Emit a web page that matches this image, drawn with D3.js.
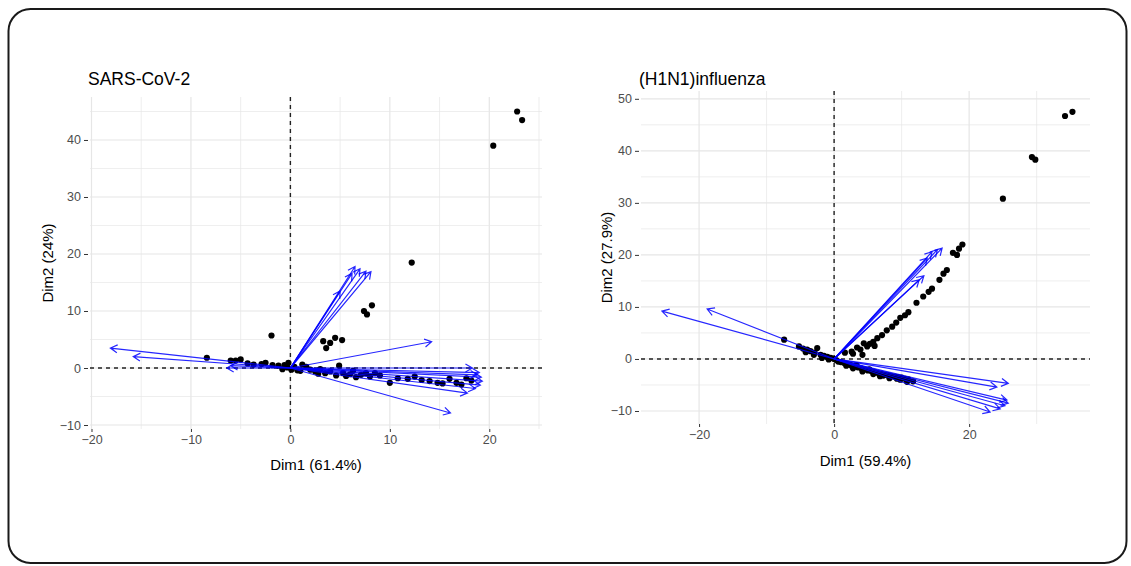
<!DOCTYPE html>
<html>
<head>
<meta charset="utf-8">
<script src="https://cdn.jsdelivr.net/npm/d3@7"></script>
<style>
  body { margin: 0; background: #fff; }
  svg { display: block; font-family: "Liberation Sans", Arial, sans-serif; }
</style>
</head>
<body>
<div id="chart"></div>
<script>
// SARS-CoV-2 : individus (points) et variables (fleches)
const sarsInd = [
  [22.8, 45.0], [23.3, 43.5], [20.4, 39.0], [12.2, 18.5],
  [7.4, 10.0], [7.7, 9.4], [8.2, 11.0],
  [-1.9, 5.7], [3.3, 4.7], [3.6, 3.5], [4.0, 4.4], [4.5, 5.3], [5.2, 4.9],
  [-8.4, 1.8], [-6.0, 1.3], [-5.5, 1.3], [-5.0, 1.5], [-4.3, 0.8], [-3.7, 0.6],
  [-2.9, 0.7], [-2.5, 0.9], [-1.8, 0.5], [-1.2, 0.4], [-0.6, 0.5], [-0.2, 0.9],
  [-0.3, 0.1], [0.1, -0.3], [0.4, 0.2],
  [1.2, 0.6], [1.6, 0.2], [2.0, -0.3], [2.5, -0.6], [3.0, -0.2], [3.5, -0.9],
  [4.0, -0.6], [4.6, -1.3], [4.9, 0.4], [5.3, -0.9], [6.0, -1.1], [6.6, -1.6],
  [7.1, -1.2], [8.0, -1.5], [9.0, -1.3], [10.0, -2.6], [10.8, -1.8], [11.8, -1.9],
  [12.5, -1.5], [13.2, -2.1], [14.0, -2.3], [14.8, -2.6], [15.3, -2.7], [16.0, -1.9],
  [16.7, -2.6], [17.2, -2.9], [17.7, -1.8], [18.2, -2.2], [8.5, -0.9], [6.3, -0.5],
  [2.8, -1.0], [1.0, -0.5], [-0.8, -0.2], [0.7, -0.4], [5.6, -1.4], [7.6, -0.9]
];
const sarsVar = [
  [6.5, 17.8], [7.0, 17.4], [7.6, 17.0], [8.1, 16.9], [6.2, 16.6], [5.0, 13.5],
  [14.2, 4.6], [16.1, -7.9],
  [18.3, 0.0], [19.0, -0.8], [19.2, -1.6], [19.3, -2.3], [19.1, -3.0], [18.6, -3.6],
  [17.8, -4.4], [18.8, -1.2],
  [-18.1, 3.5], [-15.8, 2.0], [-6.4, 0.0], [-6.0, 0.4]
];
const sarsXTicks = [-20, -10, 0, 10, 20];
const sarsYTicks = [-10, 0, 10, 20, 30, 40];

// (H1N1)influenza
const fluInd = [
  [35.3, 47.5], [34.2, 46.7], [29.3, 38.8], [29.8, 38.3], [25.0, 30.8],
  [19.0, 22.0], [18.5, 21.2], [17.6, 20.4], [18.2, 20.0], [16.7, 17.1], [16.2, 16.4],
  [15.6, 15.2], [14.5, 13.5], [14.0, 12.9], [13.2, 12.0], [12.2, 10.8], [11.0, 9.0],
  [10.5, 8.4], [9.8, 7.9], [9.2, 7.0], [8.6, 6.2], [7.8, 5.5], [7.1, 4.6], [6.4, 4.0],
  [5.8, 3.3], [5.3, 2.9], [4.9, 2.4], [4.4, 3.0], [3.9, 1.8], [3.4, 2.2], [2.8, 1.0],
  [2.6, 1.4], [1.6, 1.2], [6.0, 2.5], [4.2, 0.8],
  [-7.4, 3.7], [-5.2, 2.4], [-4.6, 2.0], [-4.0, 1.8], [-3.5, 1.5], [-2.9, 1.2],
  [-2.5, 2.1], [-2.0, 0.8], [-1.5, 0.6], [-1.0, 0.4], [-0.5, 0.2], [0.0, 0.0], [0.3, -0.2],
  [1.0, -0.6], [1.5, -0.8], [2.0, -1.0], [2.5, -1.2], [3.0, -1.4], [3.5, -1.6],
  [4.0, -1.8], [4.5, -2.0], [5.0, -2.2], [5.5, -2.3], [6.0, -2.5], [6.5, -2.7],
  [7.0, -2.8], [7.5, -3.0], [8.0, -3.1], [8.5, -3.3], [9.0, -3.4], [9.5, -3.5],
  [10.0, -3.6], [10.5, -3.8], [11.0, -3.9], [11.7, -4.3], [5.2, -2.0], [7.3, -3.2],
  [9.3, -3.8], [3.3, -1.2], [1.8, -1.3], [2.8, -1.8], [4.2, -2.4], [5.8, -2.9],
  [6.8, -3.3], [8.2, -3.7], [9.8, -4.0], [10.8, -4.4], [-4.2, 1.3], [-3.0, 0.8],
  [-1.8, 0.2], [-0.8, -0.1], [0.6, -0.5]
];
const fluVar = [
  [16.0, 21.3], [15.3, 21.0], [14.5, 20.6], [13.8, 19.4], [13.3, 16.0], [12.6, 15.2],
  [-25.5, 9.2], [-18.8, 9.6],
  [25.8, -4.7], [24.1, -5.4], [25.6, -7.9], [25.8, -8.5], [25.3, -9.0], [24.6, -9.6],
  [23.1, -10.2]
];
const fluXTicks = [-20, 0, 20];
const fluYTicks = [-10, 0, 10, 20, 30, 40, 50];

const width = 1131;
const height = 566;

const svg = d3.select("#chart").append("svg")
  .attr("width", width)
  .attr("height", height);

// cadre arrondi
svg.append("rect")
  .attr("x", 8.5).attr("y", 9)
  .attr("width", 1118).attr("height", 554)
  .attr("rx", 22).attr("ry", 22)
  .attr("fill", "none")
  .attr("stroke", "#1a1a1a")
  .attr("stroke-width", 2);

function biplot(opt) {
  const x = d3.scaleLinear().domain(opt.xDomain).range([opt.left, opt.right]);
  const y = d3.scaleLinear().domain(opt.yDomain).range([opt.bottom, opt.top]);
  const g = svg.append("g");

  // grille mineure + majeure (style theme_minimal)
  const xMinor = d3.range(-40, 45, opt.xStep / 2).filter(v => v > opt.xDomain[0] && v < opt.xDomain[1]);
  const yMinor = d3.range(-20, 60, 5).filter(v => v > opt.yDomain[0] && v < opt.yDomain[1]);
  g.selectAll(".vx").data(xMinor).join("line")
    .attr("x1", d => x(d)).attr("x2", d => x(d))
    .attr("y1", opt.top).attr("y2", opt.bottom)
    .attr("stroke", "#e6e6e6")
    .attr("stroke-width", d => opt.xTicks.includes(d) ? 1.2 : 0.7);
  g.selectAll(".hy").data(yMinor).join("line")
    .attr("y1", d => y(d)).attr("y2", d => y(d))
    .attr("x1", opt.left).attr("x2", opt.right)
    .attr("stroke", "#e6e6e6")
    .attr("stroke-width", d => opt.yTicks.includes(d) ? 1.2 : 0.7);

  // axes
  const ax = g.append("g")
    .attr("transform", `translate(0,${opt.bottom})`)
    .call(d3.axisBottom(x).tickValues(opt.xTicks).tickSize(3).tickPadding(3));
  const ay = g.append("g")
    .attr("transform", `translate(${opt.left - 2},0)`)
    .call(d3.axisLeft(y).tickValues(opt.yTicks).tickSize(4).tickPadding(3));
  [ax, ay].forEach(a => {
    a.select(".domain").remove();
    a.selectAll(".tick line").attr("stroke", "#333");
    a.selectAll(".tick text")
      .attr("fill", "#4d4d4d")
      .style("font-size", "12.5px")
      .style("font-family", "Liberation Sans, Arial, sans-serif");
  });

  // lignes de reference
  g.append("line")
    .attr("x1", x(0)).attr("x2", x(0))
    .attr("y1", opt.top).attr("y2", opt.bottom)
    .attr("stroke", "#222").attr("stroke-width", 1.4)
    .attr("stroke-dasharray", "4,4");
  g.append("line")
    .attr("y1", y(0)).attr("y2", y(0))
    .attr("x1", opt.left).attr("x2", opt.right)
    .attr("stroke", "#222").attr("stroke-width", 1.4)
    .attr("stroke-dasharray", "4,4");

  // points
  g.append("g").selectAll("circle")
    .data(opt.ind)
    .join("circle")
    .attr("cx", d => x(d[0]))
    .attr("cy", d => y(d[1]))
    .attr("r", 3.1)
    .attr("fill", "#000");

  // fleches des variables
  const arrows = g.append("g")
    .attr("stroke", "#0000ff")
    .attr("stroke-width", 1.2)
    .attr("stroke-opacity", 0.85)
    .attr("fill", "none");
  opt.vars.forEach(v => {
    const x0 = x(0), y0 = y(0), x1 = x(v[0]), y1 = y(v[1]);
    const a = Math.atan2(y1 - y0, x1 - x0);
    const hl = 8, ha = Math.PI / 6;
    const p = d3.path();
    p.moveTo(x0, y0); p.lineTo(x1, y1);
    p.moveTo(x1 - hl * Math.cos(a - ha), y1 - hl * Math.sin(a - ha));
    p.lineTo(x1, y1);
    p.lineTo(x1 - hl * Math.cos(a + ha), y1 - hl * Math.sin(a + ha));
    arrows.append("path").attr("d", p.toString());
  });

  // titres
  svg.append("text")
    .attr("x", opt.left - 2).attr("y", 85)
    .attr("fill", "#000")
    .style("font-size", "17.5px")
    .text(opt.title);
  svg.append("text")
    .attr("x", (opt.left + opt.right) / 2).attr("y", opt.xLabelY)
    .attr("text-anchor", "middle")
    .attr("fill", "#000")
    .style("font-size", "15px")
    .text(opt.labelX);
  svg.append("text")
    .attr("transform", `translate(${opt.yLabelX},${(opt.top + opt.bottom) / 2}) rotate(-90)`)
    .attr("text-anchor", "middle")
    .attr("fill", "#000")
    .style("font-size", "15px")
    .text(opt.labelY);
}

biplot({
  title: "SARS-CoV-2", labelX: "Dim1 (61.4%)", labelY: "Dim2 (24%)",
  ind: sarsInd, vars: sarsVar, xTicks: sarsXTicks, yTicks: sarsYTicks,
  left: 90, right: 542, top: 97, bottom: 429,
  xDomain: [-20.15, 25.3], yDomain: [-10.7, 47.54], xStep: 10,
  xLabelY: 470, yLabelX: 53
});

biplot({
  title: "(H1N1)influenza", labelX: "Dim1 (59.4%)", labelY: "Dim2 (27.9%)",
  ind: fluInd, vars: fluVar, xTicks: fluXTicks, yTicks: fluYTicks,
  left: 641, right: 1090, top: 91, bottom: 424,
  xDomain: [-28.6, 37.9], yDomain: [-12.5, 51.5], xStep: 20,
  xLabelY: 466, yLabelX: 612
});
</script>
</body>
</html>
